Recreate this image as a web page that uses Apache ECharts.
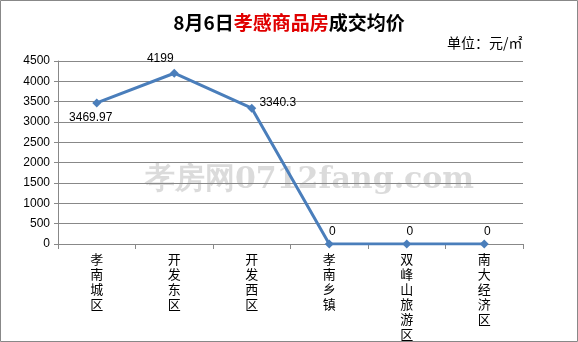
<!DOCTYPE html>
<html><head><meta charset="utf-8">
<script src="https://cdn.jsdelivr.net/npm/echarts@6/dist/echarts.min.js"></script>
<style>html,body{margin:0;padding:0;background:#fff}#c{width:578px;height:342px}</style>
</head><body><div id="c"></div>
<script>
const categories = ['孝南城区','开发东区','开发西区','孝南乡镇','双峰山旅游区','南大经济区'];
const values = [3469.97, 4199, 3340.3, 0, 0, 0];
const yTicks = {min: 0, max: 4500, interval: 500};
const labelPos = [[ -6, 15 ], [ -14, -15 ], [ 26, -5 ], [ 3, -12 ], [ 3, -12 ], [ 3, -12 ]];

const chart = echarts.init(document.getElementById('c'));
const font = '"Noto Sans CJK SC", sans-serif';
chart.setOption({
  animation: false,
  backgroundColor: '#fff',
  graphic: [
    {type:'rect', shape:{x:0.5,y:0.5,width:577,height:341}, style:{fill:'none', stroke:'#888', lineWidth:1}},
    {type:'text', left:'center', top:13, style:{rich:{a:{fill:'#000',fontSize:19,fontWeight:'bold',fontFamily:font},r:{fill:'#e00000',fontSize:19,fontWeight:'bold',fontFamily:font}}, text:'{a|8月6日}{r|孝感商品房}{a|成交均价}'}},
    {type:'text', left:447, top:36, style:{text:'单位：元/㎡', fill:'#000', fontSize:14, fontFamily:font}},
    {type:'text', left:145, top:165, z:-1, style:{text:'孝房网0712fang.com', fill:'rgba(190,190,190,0.55)', fontSize:30, fontWeight:'bold', fontFamily:'"DejaVu Serif", serif'}}
  ],
  grid: {left: 58, right: 55, top: 61, bottom: 98},
  xAxis: {
    type: 'category', data: categories, boundaryGap: true,
    axisLine: {lineStyle: {color: '#888'}},
    axisTick: {show: true, length: 5, lineStyle: {color: '#888'}},
    axisLabel: {color: '#000', fontSize: 13, fontFamily: font, lineHeight: 15, margin: 8,
      formatter: v => v.split('').join('\n')}
  },
  yAxis: {
    type: 'value', min: yTicks.min, max: yTicks.max, interval: yTicks.interval,
    axisLine: {show: true, lineStyle: {color: '#888'}},
    axisTick: {show: true, length: 4, lineStyle: {color: '#888'}},
    splitLine: {lineStyle: {color: '#888'}},
    axisLabel: {color: '#000', fontSize: 12, fontFamily: '"Liberation Sans", sans-serif', margin: 8,
      formatter: v => String(v)}
  },
  series: [{
    type: 'line', data: values.map((v,i)=>({value:v, label:{offset:labelPos[i]}})),
    symbol: 'diamond', symbolSize: 9,
    lineStyle: {color: '#4a7ebb', width: 3},
    itemStyle: {color: '#4a7ebb'},
    label: {show: true, position: 'inside', color: '#000', fontSize: 12, fontFamily: '"Liberation Sans", sans-serif'}
  }]
});
</script></body></html>
